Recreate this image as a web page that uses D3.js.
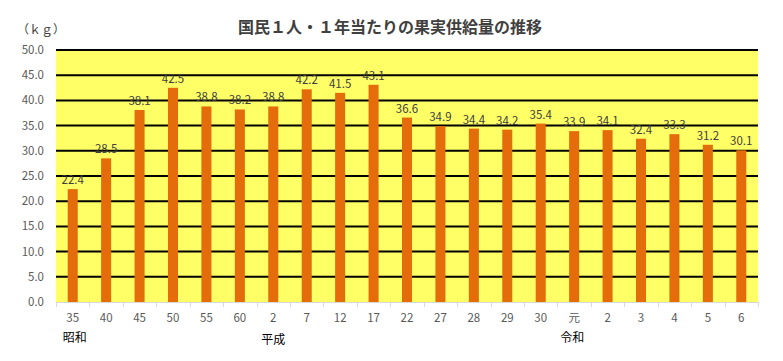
<!DOCTYPE html>
<html>
<head>
<meta charset="utf-8">
<script src="https://cdn.jsdelivr.net/npm/d3@7"></script>
<style>
  body { margin: 0; background: #fff; }
  text { font-family: "Noto Sans CJK JP", "Noto Sans", sans-serif; }
</style>
</head>
<body>
<div id="chart"></div>
<script>
// data
const categories = ["35", "40", "45", "50", "55", "60", "2", "7", "12", "17", "22", "27", "28", "29", "30", "元", "2", "3", "4", "5", "6"];
const values = [22.4, 28.5, 38.1, 42.5, 38.8, 38.2, 38.8, 42.2, 41.5, 43.1, 36.6, 34.9, 34.4, 34.2, 35.4, 33.9, 34.1, 32.4, 33.3, 31.2, 30.1];
const yTicks = [0, 5, 10, 15, 20, 25, 30, 35, 40, 45, 50];
const eras = [{label: "昭和", index: 0}, {label: "平成", index: 6}, {label: "令和", index: 15}];

const width = 783, height = 361;
const margin = {top: 50, right: 25, bottom: 59, left: 56};

const svg = d3.select("#chart").append("svg")
    .attr("width", width)
    .attr("height", height);

const x = d3.scaleBand()
    .domain(d3.range(categories.length))
    .range([margin.left, width - margin.right])
    .paddingInner(0.7)
    .paddingOuter(0.35);

const y = d3.scaleLinear()
    .domain([0, 50])
    .range([height - margin.bottom, margin.top]);

// plot background
svg.append("rect")
    .attr("x", margin.left)
    .attr("y", margin.top)
    .attr("width", width - margin.left - margin.right)
    .attr("height", height - margin.top - margin.bottom)
    .attr("fill", "#FFFF66");

// grid lines
svg.selectAll(".grid")
    .data(yTicks.filter(d => d > 0))
    .enter()
    .append("line")
    .attr("class", "grid")
    .attr("x1", margin.left)
    .attr("x2", width - margin.right)
    .attr("y1", d => y(d))
    .attr("y2", d => y(d))
    .attr("stroke", "#000")
    .attr("stroke-width", 2);

// bars
svg.selectAll(".bar")
    .data(values)
    .enter()
    .append("rect")
    .attr("class", "bar")
    .attr("x", (d, i) => x(i))
    .attr("width", x.bandwidth())
    .attr("y", d => y(d))
    .attr("height", d => y(0) - y(d))
    .attr("fill", "#E46C0A");

// value labels
svg.selectAll(".val")
    .data(values)
    .enter()
    .append("text")
    .attr("class", "val")
    .attr("x", (d, i) => x(i) + x.bandwidth() / 2)
    .attr("y", d => y(d) - 5)
    .attr("text-anchor", "middle")
    .attr("font-size", 11.5)
    .attr("fill", "#404040")
    .text(d => d.toFixed(1));

// x axis line + ticks
const plotW = width - margin.left - margin.right;
svg.append("line")
    .attr("x1", margin.left)
    .attr("x2", width - margin.right)
    .attr("y1", y(0) + 0.5)
    .attr("y2", y(0) + 0.5)
    .attr("stroke", "#D9D9D9");

svg.selectAll(".xtick")
    .data(d3.range(categories.length + 1))
    .enter()
    .append("line")
    .attr("class", "xtick")
    .attr("x1", i => Math.round(margin.left + plotW * i / categories.length) + 0.5)
    .attr("x2", i => Math.round(margin.left + plotW * i / categories.length) + 0.5)
    .attr("y1", y(0))
    .attr("y2", y(0) + 5)
    .attr("stroke", "#D9D9D9");

svg.selectAll(".xlab")
    .data(categories)
    .enter()
    .append("text")
    .attr("class", "xlab")
    .attr("x", (d, i) => x(i) + x.bandwidth() / 2)
    .attr("y", 322)
    .attr("text-anchor", "middle")
    .attr("font-size", 11.5)
    .attr("fill", "#595959")
    .text(d => d);

// era labels
svg.selectAll(".era")
    .data(eras)
    .enter()
    .append("text")
    .attr("class", "era")
    .attr("x", d => x(d.index) + x.bandwidth() / 2)
    .attr("y", d => d.label === "平成" ? 344 : 342)
    .attr("text-anchor", d => d.label === "昭和" ? "start" : "middle")
    .attr("dx", d => d.label === "昭和" ? -10 : (d.label === "令和" ? -2 : 0))
    .attr("font-size", 12)
    .attr("fill", "#000")
    .text(d => d.label);

// y axis labels
svg.selectAll(".ylab")
    .data(yTicks)
    .enter()
    .append("text")
    .attr("class", "ylab")
    .attr("x", 44)
    .attr("y", d => y(d) + 4)
    .attr("text-anchor", "end")
    .attr("font-size", 11.5)
    .attr("fill", "#595959")
    .text(d => d.toFixed(1));

// unit
svg.append("text")
    .attr("x", 17)
    .attr("y", 34)
    .attr("font-size", 12)
    .attr("fill", "#404040")
    .text("（ｋｇ）");

// title
svg.append("text")
    .attr("x", 390)
    .attr("y", 33)
    .attr("text-anchor", "middle")
    .attr("font-size", 16)
    .attr("font-weight", "bold")
    .attr("fill", "#404040")
    .text("国民１人・１年当たりの果実供給量の推移");
</script>
</body>
</html>
